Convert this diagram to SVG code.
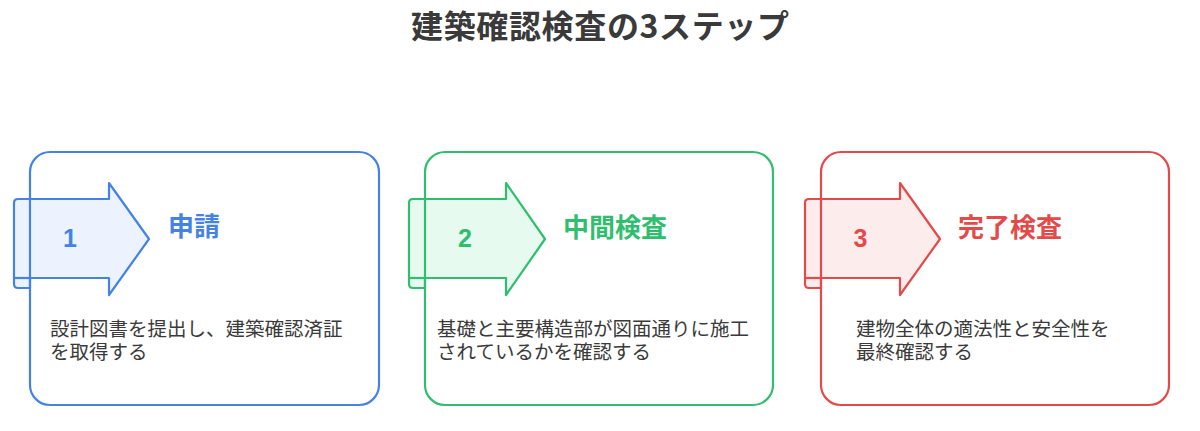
<svg xmlns="http://www.w3.org/2000/svg" width="1200" height="431" viewBox="0 0 1200 431">
<style>
.title{font-family:"Noto Sans CJK JP","Noto Sans",sans-serif;font-weight:700;font-size:32px;fill:#3a3a3a}
.num{font-family:"Liberation Sans","Noto Sans CJK JP",sans-serif;font-weight:700;font-size:25px;text-anchor:middle}
.head{font-family:"Noto Sans CJK JP",sans-serif;font-weight:700;font-size:26px}
.desc{font-family:"Noto Sans CJK JP",sans-serif;font-size:19.5px;fill:#3a3a3a}
.box{fill:none;stroke-width:2.2}
.arr{stroke-width:2.2;stroke-linejoin:round}
.blue{stroke:#4583E3}
.green{stroke:#2FBE6E}
.red{stroke:#E34A4A}
</style>
<rect width="1200" height="431" fill="#ffffff"/>
<text class="title" x="600" y="38" text-anchor="middle" textLength="378" lengthAdjust="spacing">建築確認検査の3ステップ</text>

<g id="connectors"></g>

<g id="step1">
  <path class="arr blue" fill="#EDF3FE" d="M18,199 L109,199 L109,183 L149,239 L109,295 L109,278 L30,278 L30,288 L18,288 Q14,288 14,284 L14,203 Q14,199 18,199 Z"/>
  <path class="arr blue" fill="none" d="M14,278 L30,278"/>
  <rect class="box blue" x="30" y="152" width="349" height="253" rx="20"/>
  <text class="num" x="70" y="247" fill="#4583E3">1</text>
  <text class="head" x="168" y="236" fill="#4583E3">申請</text>
  <text class="desc" x="50" y="335.5">設計図書を提出し、建築確認済証<tspan x="50" dy="23.5">を取得する</tspan></text>
</g>

<g id="step2">
  <path class="arr green" fill="#E6FAEF" d="M413,199 L506,199 L506,183 L545,239 L506,295 L506,278 L425,278 L425,288 L413,288 Q409,288 409,284 L409,203 Q409,199 413,199 Z"/>
  <path class="arr green" fill="none" d="M409,278 L425,278"/>
  <rect class="box green" x="425" y="152" width="348" height="253" rx="20"/>
  <text class="num" x="465" y="247" fill="#2FBE6E">2</text>
  <text class="head" x="563" y="237" fill="#2FBE6E">中間検査</text>
  <text class="desc" x="437" y="335.5">基礎と主要構造部が図面通りに施工<tspan x="437" dy="23.5">されているかを確認する</tspan></text>
</g>

<g id="step3">
  <path class="arr red" fill="#FDECEC" d="M809,199 L900,199 L900,183 L940,239 L900,295 L900,278 L821,278 L821,288 L809,288 Q805,288 805,284 L805,203 Q805,199 809,199 Z"/>
  <path class="arr red" fill="none" d="M805,278 L821,278"/>
  <rect class="box red" x="821" y="152" width="348" height="253" rx="20"/>
  <text class="num" x="860.5" y="247" fill="#E34A4A">3</text>
  <text class="head" x="958" y="237" fill="#E34A4A">完了検査</text>
  <text class="desc" x="856" y="335.5">建物全体の適法性と安全性を<tspan x="856" dy="23.5">最終確認する</tspan></text>
</g>
</svg>
